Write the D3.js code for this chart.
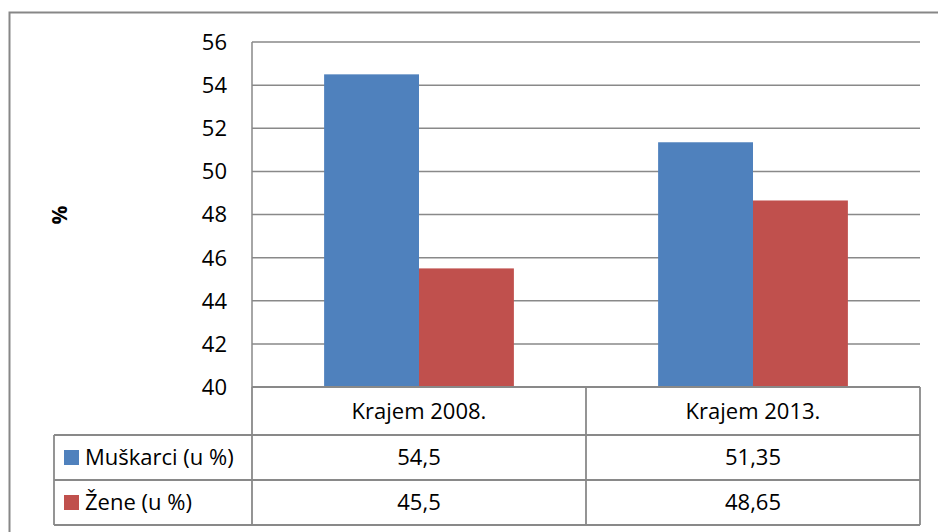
<!DOCTYPE html>
<html>
<head>
<meta charset="utf-8">
<script src="https://cdn.jsdelivr.net/npm/d3@7"></script>
<style>
  body { margin: 0; background: #fff; }
  text { font-family: "Open Sans", Lato, sans-serif; fill: #000; }
</style>
</head>
<body>
<script>
var categories = ["Krajem 2008.", "Krajem 2013."];
var seriesNames = ["Muškarci (u %)", "Žene (u %)"];
var muskarci = [54.5, 51.35];
var zene = [45.5, 48.65];
var valueLabels = [["54,5", "51,35"], ["45,5", "48,65"]];
var yTicks = [40, 42, 44, 46, 48, 50, 52, 54, 56];
var colors = ["#4F81BD", "#C0504D"];

var series = [muskarci, zene];

var svg = d3.select("body").append("svg")
    .attr("width", 938).attr("height", 532);

// outer chart frame (runs off the right and bottom edge)
svg.append("rect")
    .attr("x", 9.5).attr("y", 12.5)
    .attr("width", 1000).attr("height", 600)
    .attr("fill", "none").attr("stroke", "#878787").attr("stroke-width", 2);

var plotL = 252, plotR = 920, plotT = 42, plotB = 387;

var x = d3.scaleBand().domain(categories).range([plotL, plotR]);
var xs = d3.scaleBand().domain(d3.range(2)).range([0, x.bandwidth()])
    .paddingInner(0).paddingOuter(0.76);
var y = d3.scaleLinear().domain([40, 56]).range([plotB, plotT]);

// gridlines
svg.append("g").selectAll("line").data(yTicks).join("line")
    .attr("x1", plotL).attr("x2", plotR)
    .attr("y1", function (d) { return y(d); })
    .attr("y2", function (d) { return y(d); })
    .attr("stroke", "#898989").attr("stroke-width", 1.5);

// y axis line
svg.append("line")
    .attr("x1", plotL).attr("x2", plotL).attr("y1", plotT).attr("y2", plotB)
    .attr("stroke", "#898989").attr("stroke-width", 1.5);

// tick labels
svg.append("g").selectAll("text").data(yTicks).join("text")
    .attr("x", 227).attr("y", function (d) { return y(d); })
    .attr("dy", "0.36em")
    .attr("text-anchor", "end")
    .style("font-size", "22px")
    .text(function (d) { return d; });

svg.append("text")
    .attr("transform", "translate(67,215) rotate(-90)")
    .attr("text-anchor", "middle")
    .style("font-size", "21px").style("font-weight", "bold")
    .text("%");

// bars
series.forEach(function (vals, si) {
  svg.append("g").selectAll("rect").data(vals).join("rect")
      .attr("x", function (d, i) { return x(categories[i]) + xs(si); })
      .attr("width", xs.bandwidth())
      .attr("y", function (d) { return y(d); })
      .attr("height", function (d) { return y(40) - y(d); })
      .attr("fill", colors[si]);
});

// data table
var rowH = [plotB, 435, 480, 525];
var legLeft = 54;
var g = svg.append("g").attr("stroke", "#898989").attr("stroke-width", 1.8).attr("fill", "none");
g.append("line").attr("x1", plotL).attr("x2", plotR).attr("y1", rowH[0]).attr("y2", rowH[0]);
rowH.slice(1).forEach(function (h) {
  g.append("line").attr("x1", legLeft).attr("x2", plotR).attr("y1", h).attr("y2", h);
});
g.append("line").attr("x1", plotL).attr("x2", plotL).attr("y1", rowH[0]).attr("y2", rowH[3]);
g.append("line").attr("x1", x(categories[1])).attr("x2", x(categories[1])).attr("y1", rowH[0]).attr("y2", rowH[3]);
g.append("line").attr("x1", plotR).attr("x2", plotR).attr("y1", rowH[0]).attr("y2", rowH[3]);
g.append("line").attr("x1", legLeft).attr("x2", legLeft).attr("y1", rowH[1]).attr("y2", rowH[3]);

svg.append("g").selectAll("text").data(categories).join("text")
    .attr("x", function (d) { return x(d) + x.bandwidth() / 2; })
    .attr("y", (rowH[0] + rowH[1]) / 2).attr("dy", "0.36em")
    .attr("text-anchor", "middle").style("font-size", "22px")
    .text(function (d) { return d; });

seriesNames.forEach(function (name, si) {
  var cy = (rowH[si + 1] + rowH[si + 2]) / 2;
  svg.append("rect").attr("x", 64).attr("y", cy - 7.5)
      .attr("width", 15).attr("height", 15).attr("fill", colors[si]);
  svg.append("text").attr("x", 85).attr("y", cy).attr("dy", "0.36em")
      .style("font-size", "22px").text(name);
  svg.append("g").selectAll("text").data(valueLabels[si]).join("text")
      .attr("x", function (d, i) { return x(categories[i]) + x.bandwidth() / 2; })
      .attr("y", cy).attr("dy", "0.36em")
      .attr("text-anchor", "middle").style("font-size", "22px")
      .text(function (d) { return d; });
});
</script>
</body>
</html>
